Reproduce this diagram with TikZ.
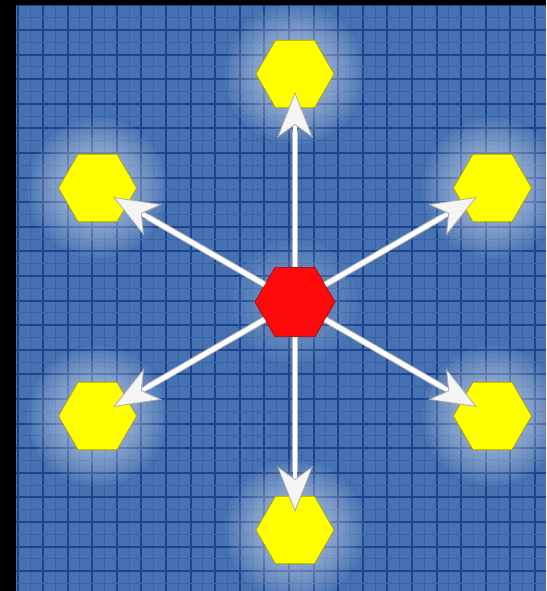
\documentclass[tikz,border=0pt]{standalone}
\usepackage{xcolor}
\usepackage{tikz}
\usetikzlibrary{shapes.geometric, arrows.meta, backgrounds}
\definecolor{meshblue}{HTML}{4672B2}
\definecolor{meshdark}{HTML}{1C4290}
\definecolor{meshmid}{HTML}{3862A8}
\definecolor{hubred}{HTML}{FF0A0A}
\definecolor{leafyellow}{HTML}{FFFF00}

\begin{document}
\begin{tikzpicture}[x=1pt, y=1pt,
  hex/.style={regular polygon, regular polygon sides=6, inner sep=0pt,
    minimum size=78pt},
  leaf/.style={hex, fill=leafyellow, draw=olive!80!yellow, line width=0.6pt},
  hubhex/.style={hex, minimum size=80pt, fill=hubred, draw=red!70!black,
    line width=0.6pt},
  spoke/.style={white, line width=4.5pt, shorten >=18pt,
    -{Stealth[length=46pt, width=36pt, inset=13pt, line width=0.8pt,
      gray!65, fill=gray!8]},
    preaction={draw=gray!55, line width=6.5pt, -, shorten >=58pt}},
  glow/.style={fill=white, opacity=0.05}]

  \useasboundingbox (-295,-289) rectangle (251,302);

  \node[hubhex] (core) at (0,0) {};
  \node[leaf] (n) at (90:228) {};
  \node[leaf] (ne) at (30:228) {};
  \node[leaf] (se) at (-30:228) {};
  \node[leaf] (s) at (-90:228) {};
  \node[leaf] (sw) at (-150:228) {};
  \node[leaf] (nw) at (150:228) {};

  \begin{scope}[on background layer]
    \fill[meshblue] (-295,-289) rectangle (251,302);
    % mesh
    \foreach \i in {-2,...,21} {
      \draw[meshmid, line width=1pt] ({-252+24.6*\i+12.3},-289) -- ++(0,591);
      \draw[meshdark, line width=2pt] ({-252+24.6*\i},-289) -- ++(0,591);
    }
    \foreach \i in {-1,...,23} {
      \draw[meshmid, line width=1pt] (-295,{272-24.6*\i-12.3}) -- ++(546,0);
      \draw[meshdark, line width=2pt] (-295,{272-24.6*\i}) -- ++(546,0);
    }
    % halos
    \foreach \leafname in {n,ne,se,s,sw,nw} {
      \foreach \r in {38,42,...,70}
        \fill[glow] (\leafname.center) circle (\r pt);
    }
    \foreach \r in {44,50,...,62}
      \fill[glow, opacity=0.04] (core.center) circle (\r pt);
    % frame
    \fill[black] (-295,-289) rectangle (-279,302);
    \fill[black] (-295,297) rectangle (251,302);
  \end{scope}

  \draw[spoke] (core) -- (n.center);
  \draw[spoke] (core) -- (ne.center);
  \draw[spoke] (core) -- (se.center);
  \draw[spoke] (core) -- (s.center);
  \draw[spoke] (core) -- (sw.center);
  \draw[spoke] (core) -- (nw.center);
\end{tikzpicture}
\end{document}
